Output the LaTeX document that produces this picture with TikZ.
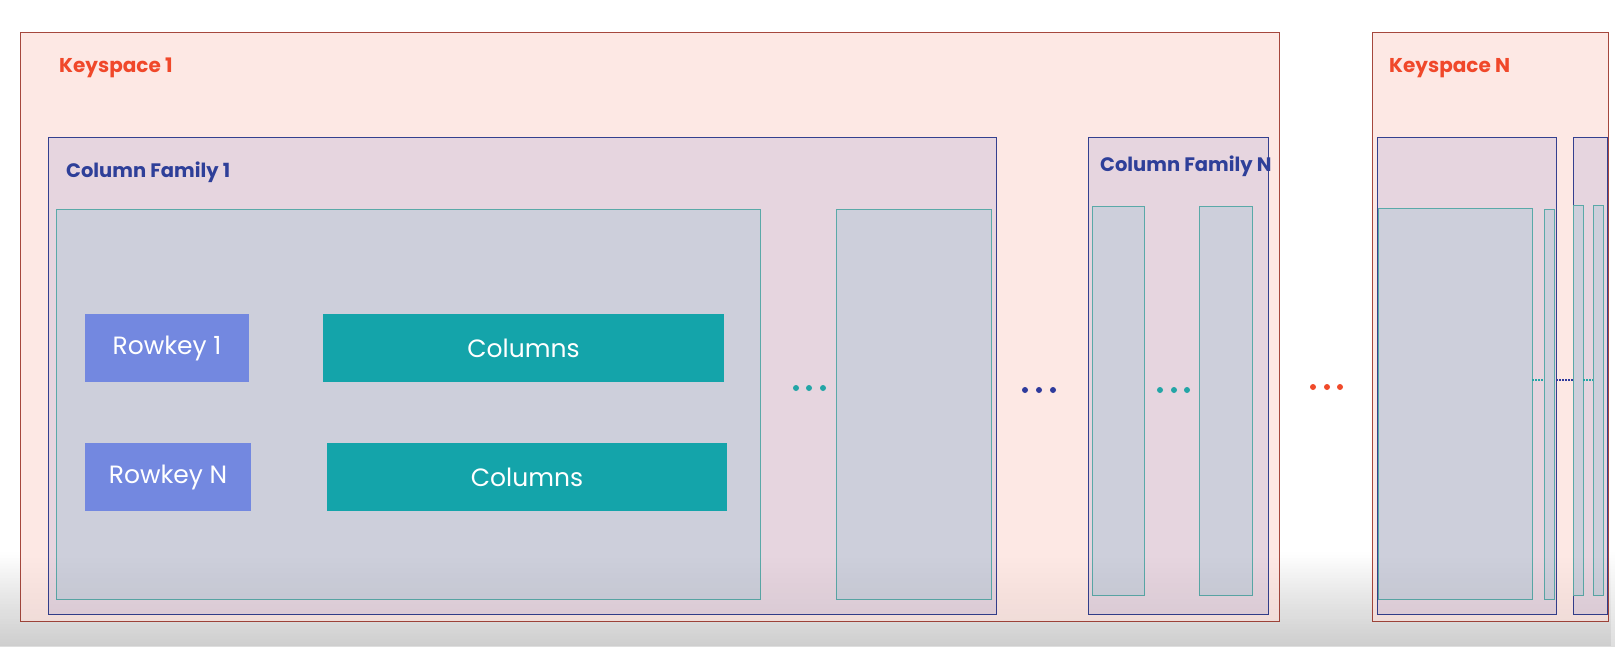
\documentclass[tikz,border=0pt]{standalone}
\usepackage{fontspec}
\setmainfont{Poppins}
\usetikzlibrary{fadings}
\definecolor{ksfill}{HTML}{FDE8E4}
\definecolor{ksline}{HTML}{A5473D}
\definecolor{cffill}{HTML}{E6D5DF}
\definecolor{cfline}{HTML}{34408F}
\definecolor{rbfill}{HTML}{CDCFDB}
\definecolor{rbline}{HTML}{5AA9A8}
\definecolor{rkfill}{HTML}{7388E0}
\definecolor{colfill}{HTML}{14A4AA}
\definecolor{kstext}{HTML}{F0482A}
\definecolor{cftext}{HTML}{2E3F99}
\definecolor{tealdot}{HTML}{23A5A6}
\definecolor{bluedot}{HTML}{2E3A9C}
\definecolor{reddot}{HTML}{F04A2A}
\tikzfading[name=fadeup, top color=transparent!100, bottom color=transparent!0]
\newcommand\bx[6]{\node[#2, anchor=north west, minimum width={#5pt-#3pt}, minimum height={#6pt-#4pt}] (#1) at (#3,#4) {};}
\tikzset{
  base/.style={inner sep=0pt, outer sep=0pt, line width=1pt},
  ksbox/.style={base, draw=ksline, fill=ksfill},
  cfbox/.style={base, draw=cfline, fill=cffill},
  rowbox/.style={base, draw=rbline, fill=rbfill},
  rkbox/.style={base, fill=rkfill},
  colbox/.style={base, fill=colfill},
  kslabel/.style={anchor=base west, inner sep=0pt, text=kstext, font=\fontsize{20}{20}\selectfont\bfseries},
  cflabel/.style={anchor=base west, inner sep=0pt, text=cftext, font=\fontsize{19.5}{19.5}\selectfont\bfseries},
  boxtext/.style={text=white, font=\fontsize{25}{25}\selectfont},
  dot/.style={circle, inner sep=0pt, minimum size=6pt},
}
\begin{document}
\begin{tikzpicture}[x=1pt, y=-1pt]
\useasboundingbox (0,0) rectangle (1615,646);
\shade[top color=white, bottom color=white!87!black] (0,550) rectangle (1615,646);
% Keyspace 1
\bx{ks1}{ksbox}{20}{32}{1279}{621}
\node[kslabel] (ks1lab) at (59,72) {Keyspace 1};
\bx{cf1}{cfbox}{48}{137}{996}{614}
\node[cflabel] (cf1lab) at (66,177) {Column Family 1};
\bx{rb1}{rowbox}{56}{209}{760}{599}
\bx{rb2}{rowbox}{836}{209}{991}{599}
\bx{rk1}{rkbox}{85}{314}{249}{382}
\node[boxtext] (rk1t) at (rk1.center) {Rowkey 1};
\bx{col1}{colbox}{323}{314}{724}{382}
\node[boxtext] (col1t) at (col1.center) {Columns};
\bx{rkn}{rkbox}{85}{443}{251}{511}
\node[boxtext] (rknt) at (rkn.center) {Rowkey N};
\bx{col2}{colbox}{327}{443}{727}{511}
\node[boxtext] (col2t) at (col2.center) {Columns};
\node[dot, fill=tealdot] (d1a) at (796,388) {};
\node[dot, fill=tealdot] (d1b) at (809,388) {};
\node[dot, fill=tealdot] (d1c) at (823,388) {};
\node[dot, fill=bluedot] (d2a) at (1025,390) {};
\node[dot, fill=bluedot] (d2b) at (1039,390) {};
\node[dot, fill=bluedot] (d2c) at (1053,390) {};
% Column family N
\bx{cfn}{cfbox}{1088}{137}{1268}{614}
\node[cflabel] (cfnlab) at (1100,171) {Column Family N};
\bx{rbn1}{rowbox}{1092}{206}{1144}{595}
\bx{rbn2}{rowbox}{1199}{206}{1252}{595}
\node[dot, fill=tealdot] (d3a) at (1160,390) {};
\node[dot, fill=tealdot] (d3b) at (1174,390) {};
\node[dot, fill=tealdot] (d3c) at (1187,390) {};
% between keyspaces
\node[dot, fill=reddot] (d4a) at (1313,387) {};
\node[dot, fill=reddot] (d4b) at (1327,387) {};
\node[dot, fill=reddot] (d4c) at (1340,387) {};
% Keyspace N
\bx{ksn}{ksbox}{1372}{32}{1608}{621}
\node[kslabel] (ksnlab) at (1389,72) {Keyspace N};
\bx{cfk1}{cfbox}{1377}{137}{1556}{614}
\bx{rbk1}{rowbox}{1378}{208}{1532}{599}
\bx{rbk2}{rowbox}{1544}{209}{1554}{599}
\bx{cfk2}{cfbox}{1573}{137}{1607}{614}
\bx{rbk3}{rowbox}{1573}{205}{1583}{595}
\bx{rbk4}{rowbox}{1593}{205}{1603}{595}
\draw[tealdot, line width=1.2pt, dash pattern=on 1.5pt off 1.5pt] (rbk1.east |- 0,380) -- (rbk2.west |- 0,380);
\draw[bluedot, line width=1.2pt, dash pattern=on 1.5pt off 1.5pt] (cfk1.east |- 0,380) -- (cfk2.west |- 0,380);
\draw[tealdot, line width=1.2pt, dash pattern=on 1.5pt off 1.5pt] (rbk3.east |- 0,380) -- (rbk4.west |- 0,380);
% bottom shading overlay
\fill[black, opacity=0.07, path fading=fadeup] (0,555) rectangle (1615,646);
\end{tikzpicture}
\end{document}
